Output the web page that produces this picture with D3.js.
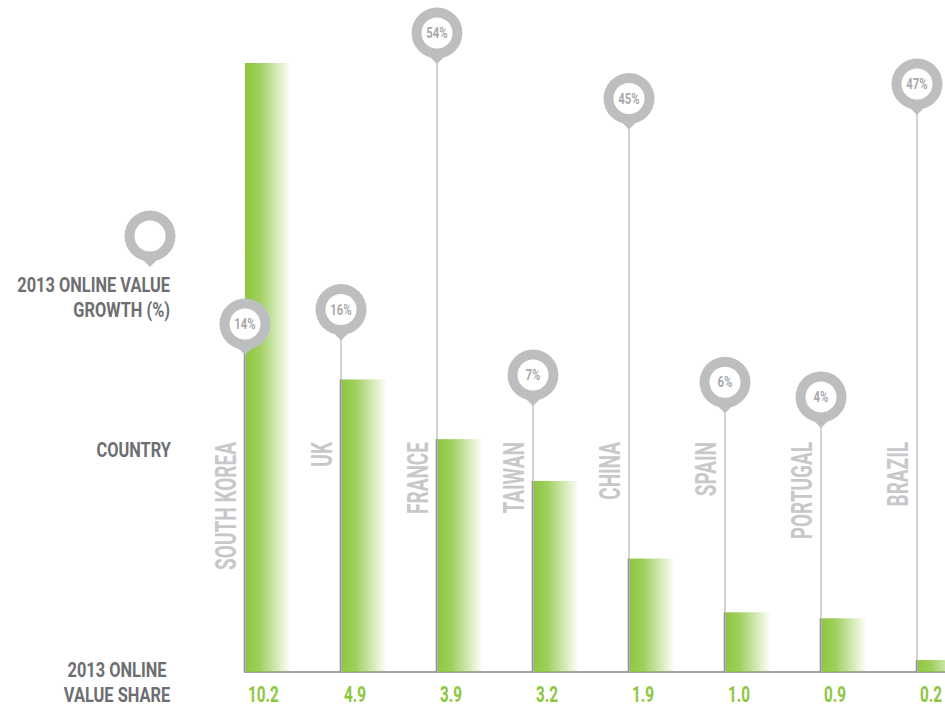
<!DOCTYPE html>
<html>
<head>
<meta charset="utf-8">
<script src="https://cdn.jsdelivr.net/npm/d3@7/dist/d3.min.js"></script>
<style>
  html, body { margin: 0; padding: 0; background: #fff; }
  svg { display: block; }
  text { font-family: Roboto, "DejaVu Sans", sans-serif; font-weight: 700; }
</style>
</head>
<body>
<svg id="chart" width="945" height="708"></svg>
<script>
// Countries, 2013 online value share and 2013 online value growth (%)
const countries = ["SOUTH KOREA", "UK", "FRANCE", "TAIWAN", "CHINA", "SPAIN", "PORTUGAL", "BRAZIL"];
const valueShare = [10.2, 4.9, 3.9, 3.2, 1.9, 1.0, 0.9, 0.2];
const valueGrowth = [14, 16, 54, 7, 45, 6, 4, 47];
const growthTitle = ["2013 ONLINE VALUE", "GROWTH (%)"];
const countryTitle = ["COUNTRY"];
const shareTitle = ["2013 ONLINE", "VALUE SHARE"];

const rows = countries.map((c, i) => ({ country: c, share: valueShare[i], growth: valueGrowth[i] }));

const W = 945, H = 708;
const baseY = 672;
const GREEN = "#8dc63f", PIN = "#bcbec0", DARK = "#6d6e71", LIGHT = "#c7c8ca";
const K = 0.78; // horizontal squeeze that gives the condensed lettering

const svg = d3.select("#chart");

const x = d3.scalePoint().domain(countries).range([245, 917]);
const yShare = d3.scaleLinear().domain([0, 10.2]).range([baseY, 63]);
const yPin = d3.scaleLinear().domain([0, 54]).range([426, 33]);

// Bar fill: solid green on the left edge, fading out to the right
const defs = svg.append("defs");
const grad = defs.append("linearGradient").attr("id", "barFade")
  .attr("x1", "0%").attr("x2", "100%").attr("y1", "0%").attr("y2", "0%");
grad.append("stop").attr("offset", "0%").attr("stop-color", GREEN).attr("stop-opacity", 1);
grad.append("stop").attr("offset", "30%").attr("stop-color", GREEN).attr("stop-opacity", 0.85);
grad.append("stop").attr("offset", "100%").attr("stop-color", GREEN).attr("stop-opacity", 0);

// Condensed text: squeeze horizontally along the writing direction
function ctext(parent, px, py, str, o) {
  const g = parent.append("g")
    .attr("transform", `translate(${px},${py}) rotate(${o.rotate || 0}) scale(${o.k || K},1)`);
  return g.append("text")
    .attr("x", 0).attr("y", 0)
    .attr("text-anchor", o.anchor || "start")
    .attr("font-size", o.size)
    .attr("fill", o.fill)
    .text(str);
}

function pin(parent, cx, cy, label) {
  const g = parent.append("g").attr("transform", `translate(${cx},${cy})`);
  g.append("path").attr("d", "M-9,22 L0,31 L9,22 Z").attr("fill", PIN);
  g.append("circle").attr("r", 25.5).attr("fill", PIN);
  g.append("circle").attr("r", 15.5).attr("fill", "#fff");
  if (label != null) {
    ctext(g, 0, 5, label, { size: 14.5, anchor: "middle", fill: "#a7a9ac", k: 0.78 });
  }
}

// Baseline
svg.append("line")
  .attr("x1", 244).attr("x2", W).attr("y1", baseY).attr("y2", baseY)
  .attr("stroke", "#a3a3a3").attr("stroke-width", 2);

// Bars
svg.append("g").selectAll("rect").data(rows).join("rect")
  .attr("x", d => x(d.country))
  .attr("y", d => yShare(d.share))
  .attr("width", 46)
  .attr("height", d => baseY - yShare(d.share))
  .attr("fill", "url(#barFade)");

// Stems from each growth pin down to the baseline
svg.append("g").selectAll("line").data(rows).join("line")
  .attr("x1", d => x(d.country)).attr("x2", d => x(d.country))
  .attr("y1", d => yPin(d.growth) + 30).attr("y2", baseY)
  .attr("stroke", "#c9c9c9").attr("stroke-width", 1.6);

// Darker edge where a stem runs along its bar
svg.append("g").selectAll("line").data(rows).join("line")
  .attr("x1", d => x(d.country) - 0.5).attr("x2", d => x(d.country) - 0.5)
  .attr("y1", d => Math.max(yShare(d.share), yPin(d.growth) + 30)).attr("y2", baseY)
  .attr("stroke", "#959595").attr("stroke-width", 1.6);

// Country names, rotated
const names = svg.append("g");
rows.forEach(d => {
  ctext(names, x(d.country) - 9.5, 442, d.country,
    { size: 29.5, anchor: "end", fill: LIGHT, rotate: -90, k: 0.645 });
});

// Share values under the baseline
const vals = svg.append("g");
rows.forEach(d => {
  ctext(vals, x(d.country) + 3, 702, d3.format(".1f")(d.share),
    { size: 22.5, anchor: "start", fill: GREEN, k: 0.68 });
});

// Growth pins
const pins = svg.append("g");
rows.forEach(d => pin(pins, x(d.country), yPin(d.growth), d.growth + "%"));

// Row titles on the left
const titles = svg.append("g");
pin(titles, 150, 236, null);
growthTitle.forEach((t, i) => ctext(titles, 170, 292 + i * 25, t, { size: 21, anchor: "end", fill: DARK }));
countryTitle.forEach((t, i) => ctext(titles, 171, 457 + i * 25, t, { size: 21, anchor: "end", fill: DARK }));
shareTitle.forEach((t, i) => ctext(titles, 117, 677 + i * 25, t, { size: 21, anchor: "middle", fill: DARK }));
</script>
</body>
</html>
